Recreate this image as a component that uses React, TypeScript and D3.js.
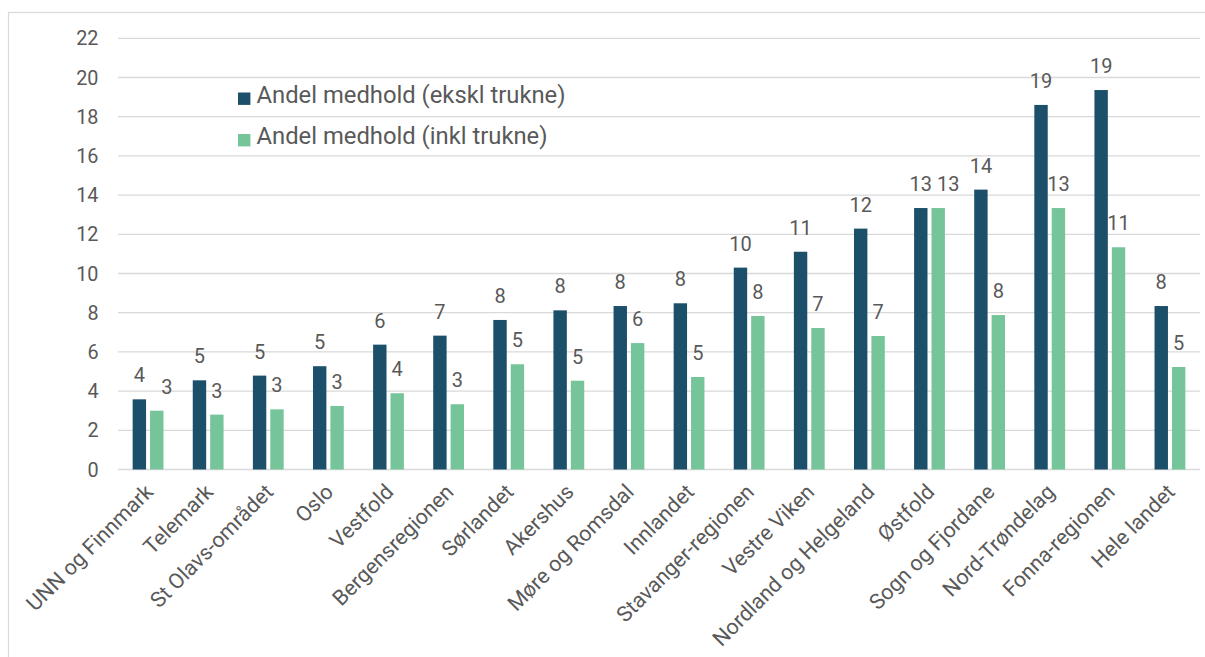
import React from "react";
import * as d3 from "d3";

// Regions, in display order
const categories: string[] = [
  "UNN og Finnmark",
  "Telemark",
  "St Olavs-området",
  "Oslo",
  "Vestfold",
  "Bergensregionen",
  "Sørlandet",
  "Akershus",
  "Møre og Romsdal",
  "Innlandet",
  "Stavanger-regionen",
  "Vestre Viken",
  "Nordland og Helgeland",
  "Østfold",
  "Sogn og Fjordane",
  "Nord-Trøndelag",
  "Fonna-regionen",
  "Hele landet",
];

// Andel medhold (ekskl trukne), percent
const eksklTrukne: number[] = [
  3.58, 4.55, 4.79, 5.27, 6.37, 6.83, 7.63, 8.12, 8.34, 8.48, 10.3, 11.11, 12.29,
  13.34, 14.28, 18.6, 19.36, 8.34,
];

// Andel medhold (inkl trukne), percent
const inklTrukne: number[] = [
  3.0, 2.8, 3.07, 3.24, 3.89, 3.33, 5.37, 4.53, 6.45, 4.72, 7.83, 7.22, 6.81,
  13.34, 7.88, 13.34, 11.34, 5.23,
];

const seriesNames: string[] = [
  "Andel medhold (ekskl trukne)",
  "Andel medhold (inkl trukne)",
];

const yTicks: number[] = [0, 2, 4, 6, 8, 10, 12, 14, 16, 18, 20, 22];

const W = 1205;
const H = 657;
const COLORS = ["#1B4F6A", "#76C59A"];
const TEXT = "#595959";
const GRID = "#D9D9D9";
const FONT = "Roboto, 'Noto Sans', sans-serif";

export default function App() {
  const plotLeft = 118;
  const plotRight = 1200;
  const plotTop = 38.3;
  const plotBottom = 469.5;

  const x = d3
    .scaleBand<string>()
    .domain(categories)
    .range([plotLeft, plotRight])
    .paddingInner(0)
    .paddingOuter(0);

  const y = d3.scaleLinear().domain([0, 22]).range([plotBottom, plotTop]);

  const barW = 13.4;
  const barGap = 4;
  const series = [eksklTrukne, inklTrukne];
  const fmt = d3.format(".0f");
  const labelSize = 20;

  const barX = (cat: string, s: number) => {
    const c = (x(cat) as number) + x.bandwidth() / 2;
    const total = barW * 2 + barGap;
    return c - total / 2 + s * (barW + barGap);
  };

  // push the second label of a pair sideways when both sit at the same height
  const labelShift = (i: number, s: number) => {
    if (s === 0) return 0;
    const dy = Math.abs(y(eksklTrukne[i]) - y(inklTrukne[i]));
    return dy < 14 ? 10 : 0;
  };

  return (
    <svg
      width={W}
      height={H}
      style={{ position: "absolute", left: 0, top: 0, background: "#fff" }}
      fontFamily={FONT}
    >
      <rect x={0} y={0} width={W} height={H} fill="#fff" />
      {/* chart frame */}
      <rect
        x={8.5}
        y={12.5}
        width={W + 10}
        height={H + 10}
        fill="none"
        stroke={GRID}
        strokeWidth={1.2}
      />

      {/* horizontal grid lines and y tick labels */}
      {yTicks.map((t) => (
        <g key={t}>
          <line
            x1={plotLeft}
            x2={plotRight}
            y1={y(t)}
            y2={y(t)}
            stroke={GRID}
            strokeWidth={1.3}
          />
          <text
            x={98.5}
            y={y(t)}
            dy="0.36em"
            textAnchor="end"
            fontSize={19.8}
            fill={TEXT}
          >
            {t}
          </text>
        </g>
      ))}

      {/* bars */}
      {series.map((vals, s) =>
        categories.map((cat, i) => (
          <rect
            key={`${s}-${i}`}
            x={barX(cat, s)}
            y={y(vals[i])}
            width={barW}
            height={y(0) - y(vals[i])}
            fill={COLORS[s]}
          />
        ))
      )}

      {/* value labels */}
      {series.map((vals, s) =>
        categories.map((cat, i) => (
          <text
            key={`l${s}-${i}`}
            x={barX(cat, s) + barW / 2 + labelShift(i, s)}
            y={y(vals[i]) - 17}
            textAnchor="middle"
            fontSize={labelSize}
            fill={TEXT}
          >
            {fmt(vals[i])}
          </text>
        ))
      )}

      {/* category labels */}
      {categories.map((cat) => {
        const cx = (x(cat) as number) + x.bandwidth() / 2 + 1;
        const cy = 488;
        return (
          <text
            key={cat}
            transform={`translate(${cx},${cy}) rotate(-45)`}
            textAnchor="end"
            dy="0.35em"
            fontSize={21.4}
            fill={TEXT}
          >
            {cat}
          </text>
        );
      })}

      {/* legend */}
      {seriesNames.map((name, s) => (
        <g key={name} transform={`translate(238,${92.5 + s * 41.5})`}>
          <rect x={0} y={0} width={12.4} height={12.4} fill={COLORS[s]} />
          <text x={18.5} y={10} fontSize={23.8} fill={TEXT}>
            {name}
          </text>
        </g>
      ))}
    </svg>
  );
}
